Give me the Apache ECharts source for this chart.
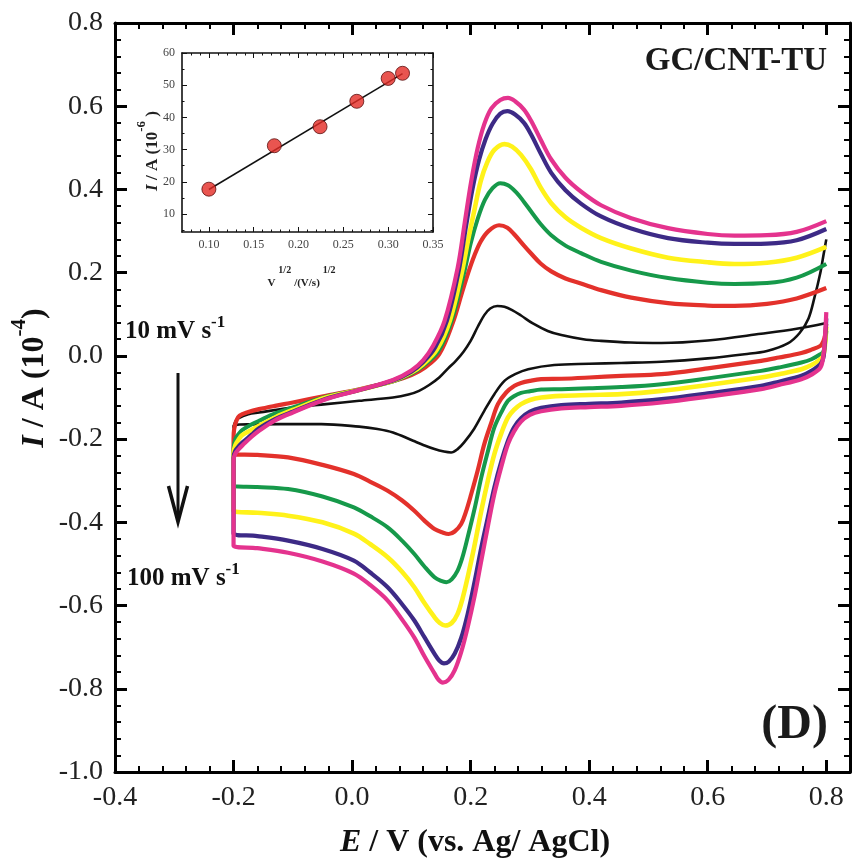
<!DOCTYPE html>
<html><head><meta charset="utf-8">
<script src="https://cdn.jsdelivr.net/npm/echarts@6/dist/echarts.min.js"></script>
<style>html,body{margin:0;padding:0;background:#fff}#c{width:853px;height:862px}</style>
</head><body><div id="c"></div>
<script>
// ---------- Main CV data: [E (V), I (1e-4 A)] ----------
const blackForward = [[-0.2,-0.172],[-0.197,-0.158],[-0.192,-0.15],[-0.175,-0.14],[-0.157,-0.136],[-0.1,-0.124],[-0.044,-0.116],[0.012,-0.108],[0.069,-0.1],[0.095,-0.093],[0.113,-0.084],[0.13,-0.07],[0.147,-0.052],[0.162,-0.03],[0.175,-0.012],[0.188,0.01],[0.2,0.036],[0.212,0.07],[0.223,0.098],[0.233,0.114],[0.245,0.12],[0.257,0.118],[0.27,0.11],[0.285,0.097],[0.305,0.078],[0.33,0.06],[0.353,0.05],[0.39,0.04],[0.42,0.036],[0.47,0.032],[0.522,0.031],[0.6,0.037],[0.69,0.053],[0.75,0.065],[0.8,0.079]];
const blackReverse = [[0.8,0.28],[0.795,0.24],[0.79,0.2],[0.78,0.14],[0.77,0.09],[0.755,0.055],[0.735,0.03],[0.7,0.012],[0.662,0.004],[0.6,-0.006],[0.522,-0.014],[0.454,-0.017],[0.4,-0.019],[0.341,-0.022],[0.297,-0.032],[0.275,-0.044],[0.257,-0.06],[0.24,-0.092],[0.223,-0.132],[0.206,-0.175],[0.189,-0.208],[0.178,-0.224],[0.167,-0.232],[0.155,-0.23],[0.139,-0.224],[0.12,-0.214],[0.103,-0.204],[0.069,-0.184],[0.04,-0.175],[0.012,-0.17],[-0.052,-0.164],[-0.12,-0.164],[-0.19,-0.165],[-0.2,-0.168]];

const redForward = [[-0.2,-0.2],[-0.199,-0.176],[-0.195,-0.155],[-0.19,-0.144],[-0.175,-0.135],[-0.157,-0.128],[-0.13,-0.12],[-0.1,-0.112],[-0.044,-0.096],[0.012,-0.08],[0.069,-0.061],[0.1,-0.046],[0.123,-0.028],[0.147,0.004],[0.17,0.08],[0.185,0.15],[0.196,0.2],[0.206,0.24],[0.217,0.275],[0.23,0.3],[0.248,0.314],[0.262,0.308],[0.275,0.29],[0.29,0.265],[0.302,0.246],[0.318,0.222],[0.336,0.203],[0.36,0.186],[0.386,0.174],[0.42,0.158],[0.471,0.14],[0.533,0.127],[0.6,0.121],[0.645,0.12],[0.7,0.125],[0.75,0.138],[0.8,0.163]];
const redReverse = [[0.8,0.077],[0.798,0.05],[0.795,0.035],[0.79,0.024],[0.775,0.015],[0.758,0.007],[0.72,-0.004],[0.69,-0.012],[0.6,-0.03],[0.522,-0.044],[0.454,-0.048],[0.4,-0.052],[0.353,-0.055],[0.319,-0.056],[0.3,-0.06],[0.285,-0.065],[0.274,-0.072],[0.26,-0.088],[0.246,-0.116],[0.235,-0.16],[0.223,-0.212],[0.212,-0.275],[0.201,-0.332],[0.192,-0.375],[0.184,-0.404],[0.173,-0.422],[0.163,-0.428],[0.152,-0.424],[0.139,-0.416],[0.122,-0.396],[0.105,-0.372],[0.085,-0.348],[0.06,-0.324],[0.03,-0.302],[0.003,-0.284],[-0.05,-0.262],[-0.108,-0.244],[-0.16,-0.238],[-0.2,-0.236]];

const greenForward = [[-0.2,-0.225],[-0.197,-0.2],[-0.19,-0.185],[-0.185,-0.178],[-0.17,-0.165],[-0.157,-0.156],[-0.13,-0.138],[-0.1,-0.124],[-0.044,-0.098],[0.012,-0.081],[0.069,-0.061],[0.1,-0.043],[0.12,-0.024],[0.145,0.01],[0.168,0.085],[0.189,0.2],[0.2,0.27],[0.212,0.33],[0.224,0.375],[0.237,0.403],[0.25,0.415],[0.263,0.41],[0.277,0.393],[0.29,0.37],[0.302,0.347],[0.318,0.317],[0.336,0.29],[0.36,0.265],[0.386,0.247],[0.42,0.226],[0.471,0.205],[0.533,0.187],[0.6,0.176],[0.645,0.173],[0.7,0.175],[0.75,0.188],[0.8,0.221]];
const greenReverse = [[0.8,0.06],[0.798,0.03],[0.795,0.01],[0.79,0.004],[0.775,-0.008],[0.758,-0.016],[0.72,-0.028],[0.69,-0.036],[0.6,-0.054],[0.522,-0.068],[0.454,-0.075],[0.4,-0.078],[0.353,-0.08],[0.319,-0.081],[0.3,-0.085],[0.285,-0.089],[0.273,-0.097],[0.263,-0.108],[0.252,-0.135],[0.24,-0.172],[0.229,-0.23],[0.218,-0.292],[0.207,-0.365],[0.195,-0.436],[0.186,-0.485],[0.178,-0.516],[0.168,-0.537],[0.159,-0.544],[0.149,-0.54],[0.139,-0.532],[0.122,-0.506],[0.105,-0.476],[0.085,-0.445],[0.06,-0.412],[0.03,-0.385],[0.003,-0.364],[-0.05,-0.338],[-0.108,-0.32],[-0.16,-0.315],[-0.2,-0.312]];

const yellowForward = [[-0.2,-0.235],[-0.197,-0.215],[-0.19,-0.198],[-0.185,-0.19],[-0.17,-0.178],[-0.157,-0.168],[-0.13,-0.148],[-0.1,-0.13],[-0.044,-0.1],[0.012,-0.082],[0.069,-0.06],[0.1,-0.04],[0.12,-0.02],[0.143,0.015],[0.165,0.085],[0.185,0.2],[0.196,0.28],[0.207,0.355],[0.217,0.42],[0.228,0.465],[0.24,0.495],[0.257,0.509],[0.27,0.503],[0.285,0.483],[0.302,0.448],[0.318,0.405],[0.336,0.367],[0.36,0.333],[0.386,0.308],[0.42,0.283],[0.471,0.258],[0.533,0.236],[0.6,0.225],[0.645,0.221],[0.7,0.224],[0.75,0.236],[0.8,0.262]];
const yellowReverse = [[0.8,0.07],[0.798,0.03],[0.795,0.0],[0.79,-0.008],[0.775,-0.022],[0.758,-0.032],[0.72,-0.044],[0.69,-0.052],[0.6,-0.07],[0.522,-0.084],[0.454,-0.092],[0.4,-0.094],[0.353,-0.096],[0.319,-0.1],[0.3,-0.106],[0.285,-0.116],[0.273,-0.13],[0.263,-0.148],[0.252,-0.185],[0.24,-0.236],[0.229,-0.3],[0.218,-0.372],[0.207,-0.452],[0.195,-0.532],[0.186,-0.585],[0.178,-0.62],[0.168,-0.642],[0.157,-0.648],[0.148,-0.642],[0.139,-0.628],[0.122,-0.594],[0.105,-0.556],[0.085,-0.52],[0.06,-0.484],[0.03,-0.452],[0.003,-0.427],[-0.05,-0.4],[-0.108,-0.384],[-0.16,-0.377],[-0.2,-0.372]];

const navyForward = [[-0.2,-0.245],[-0.197,-0.228],[-0.19,-0.215],[-0.185,-0.208],[-0.17,-0.19],[-0.157,-0.174],[-0.13,-0.152],[-0.1,-0.134],[-0.044,-0.103],[0.012,-0.082],[0.069,-0.059],[0.1,-0.038],[0.12,-0.015],[0.14,0.02],[0.16,0.085],[0.18,0.205],[0.192,0.31],[0.203,0.4],[0.214,0.47],[0.225,0.52],[0.237,0.558],[0.25,0.582],[0.262,0.588],[0.275,0.58],[0.29,0.56],[0.302,0.532],[0.318,0.487],[0.336,0.44],[0.36,0.398],[0.386,0.366],[0.42,0.335],[0.471,0.306],[0.533,0.283],[0.6,0.272],[0.645,0.269],[0.7,0.27],[0.75,0.278],[0.8,0.305]];
const navyReverse = [[0.8,0.09],[0.798,0.04],[0.795,-0.005],[0.79,-0.02],[0.775,-0.036],[0.758,-0.048],[0.72,-0.062],[0.69,-0.072],[0.6,-0.09],[0.522,-0.104],[0.454,-0.112],[0.4,-0.115],[0.353,-0.118],[0.319,-0.125],[0.3,-0.134],[0.285,-0.15],[0.273,-0.172],[0.263,-0.204],[0.252,-0.252],[0.24,-0.316],[0.229,-0.388],[0.218,-0.46],[0.207,-0.54],[0.195,-0.62],[0.184,-0.678],[0.173,-0.716],[0.163,-0.735],[0.155,-0.739],[0.147,-0.732],[0.139,-0.716],[0.122,-0.676],[0.105,-0.636],[0.085,-0.598],[0.06,-0.556],[0.03,-0.52],[0.003,-0.492],[-0.05,-0.464],[-0.108,-0.444],[-0.16,-0.433],[-0.2,-0.427]];

const pinkForward = [[-0.2,-0.25],[-0.197,-0.235],[-0.19,-0.222],[-0.185,-0.215],[-0.17,-0.195],[-0.157,-0.18],[-0.13,-0.155],[-0.1,-0.136],[-0.044,-0.104],[0.012,-0.082],[0.069,-0.058],[0.1,-0.035],[0.12,-0.01],[0.137,0.025],[0.156,0.084],[0.178,0.211],[0.19,0.32],[0.201,0.42],[0.212,0.5],[0.223,0.557],[0.235,0.595],[0.25,0.615],[0.263,0.62],[0.275,0.612],[0.29,0.592],[0.302,0.565],[0.318,0.52],[0.336,0.472],[0.36,0.428],[0.386,0.395],[0.42,0.362],[0.471,0.331],[0.533,0.307],[0.6,0.293],[0.645,0.289],[0.7,0.29],[0.75,0.298],[0.8,0.324]];
const pinkReverse = [[0.8,0.105],[0.798,0.05],[0.795,0.0],[0.79,-0.028],[0.775,-0.045],[0.758,-0.056],[0.72,-0.07],[0.69,-0.08],[0.6,-0.098],[0.522,-0.112],[0.454,-0.12],[0.4,-0.123],[0.353,-0.126],[0.319,-0.133],[0.3,-0.142],[0.285,-0.158],[0.273,-0.182],[0.263,-0.212],[0.252,-0.265],[0.24,-0.332],[0.229,-0.41],[0.218,-0.492],[0.207,-0.575],[0.195,-0.652],[0.184,-0.712],[0.173,-0.756],[0.163,-0.778],[0.153,-0.785],[0.145,-0.777],[0.139,-0.763],[0.122,-0.722],[0.105,-0.677],[0.085,-0.635],[0.06,-0.588],[0.03,-0.55],[0.003,-0.523],[-0.05,-0.494],[-0.108,-0.473],[-0.16,-0.462],[-0.2,-0.456]];

// ---------- Inset data ----------
const insetSqrtV = [0.100, 0.173, 0.224, 0.265, 0.300, 0.316];
const insetPeakI = [17.7, 31.2, 37.1, 45.0, 52.1, 53.7];
const fitX = [0.100, 0.316];
const fitY = [17.6, 53.6];
const insetXTicks = [0.10, 0.15, 0.20, 0.25, 0.30, 0.35];
const insetXMinor = [0.08,0.09,0.11,0.12,0.13,0.14,0.16,0.17,0.18,0.19,0.21,0.22,0.23,0.24,0.26,0.27,0.28,0.29,0.31,0.32,0.33,0.34];
const insetYTicks = [10, 20, 30, 40, 50, 60];
const insetYMinor = [5, 15, 25, 35, 45, 55];

const FONT = '"Liberation Serif","Times New Roman",serif';

const curves = [
  {name:'10 mV/s', color:'#111111', width:2.6, fwd:blackForward, rev:blackReverse},
  {name:'30 mV/s', color:'#e3312b', width:4.2, fwd:redForward, rev:redReverse},
  {name:'50 mV/s', color:'#16994a', width:4.0, fwd:greenForward, rev:greenReverse},
  {name:'70 mV/s', color:'#fff21a', width:4.6, fwd:yellowForward, rev:yellowReverse},
  {name:'90 mV/s', color:'#3d2a86', width:4.2, fwd:navyForward, rev:navyReverse},
  {name:'100 mV/s', color:'#e4338e', width:4.2, fwd:pinkForward, rev:pinkReverse}
];

function isMult(v, step){ const r = v/step; return Math.abs(r - Math.round(r)) < 1e-6; }

function mainAxis(position, showLabel, extra){
  return Object.assign({
    type:'value', gridIndex:0, position:position,
    axisLine:{show:true, onZero:false, lineStyle:{color:'#000', width:3}},
    axisTick:{show:true, inside:true, length:12, lineStyle:{color:'#000', width:3}},
    minorTick:{show:true, splitNumber:5, length:6, lineStyle:{color:'#000', width:2}},
    splitLine:{show:false},
    axisLabel:{show:showLabel, fontSize:28, fontFamily:FONT, color:'#222', margin:12,
      formatter: v => isMult(v,0.2) ? (Math.abs(v)<1e-9 ? '0.0' : v.toFixed(1)) : ''}
  }, extra);
}

function insetAxis(position, ticks, isMinor, extra){
  return Object.assign({
    type:'value', gridIndex:1, position:position,
    axisLine:{show:!isMinor, onZero:false, lineStyle:{color:'#111', width:1.6}},
    axisTick:{show:true, inside:true, length:isMinor?2.5:5, customValues:ticks, lineStyle:{color:'#111', width:1}},
    splitLine:{show:false},
    axisLabel:{show:false}
  }, extra);
}

const xAxes = [
  mainAxis('bottom', true, {min:-0.4, max:0.84, interval:0.2}),
  mainAxis('top', false, {min:-0.4, max:0.84, interval:0.2}),
  insetAxis('bottom', insetXTicks, false, {min:0.07, max:0.35,
    axisLabel:{show:true, customValues:insetXTicks, fontSize:12, fontFamily:FONT, color:'#444', margin:7, formatter:v=>v.toFixed(2)}}),
  insetAxis('top', insetXTicks, false, {min:0.07, max:0.35}),
  insetAxis('bottom', insetXMinor, true, {min:0.07, max:0.35}),
  insetAxis('top', insetXMinor, true, {min:0.07, max:0.35})
];
const yAxes = [
  mainAxis('left', true, {min:-1.0, max:0.8, interval:0.2}),
  mainAxis('right', false, {min:-1.0, max:0.8, interval:0.2}),
  insetAxis('left', insetYTicks, false, {min:4.4, max:60,
    axisLabel:{show:true, customValues:insetYTicks, fontSize:12, fontFamily:FONT, color:'#444', margin:7}}),
  insetAxis('right', insetYTicks, false, {min:4.4, max:60}),
  insetAxis('left', insetYMinor, true, {min:4.4, max:60}),
  insetAxis('right', insetYMinor, true, {min:4.4, max:60})
];

const series = curves.map((c, i) => ({
  type:'line', name:c.name, xAxisIndex:0, yAxisIndex:0,
  data: c.rev.concat(c.fwd), showSymbol:false, smooth:0.35, silent:true,
  lineStyle:{color:c.color, width:c.width, join:'round'}, z:2+i
}));
series.push({
  type:'line', xAxisIndex:2, yAxisIndex:2, data: fitX.map((x,i)=>[x, fitY[i]]),
  showSymbol:false, silent:true, lineStyle:{color:'#111', width:1.5}, z:10
});
series.push({
  type:'scatter', xAxisIndex:2, yAxisIndex:2, data: insetSqrtV.map((x,i)=>[x, insetPeakI[i]]),
  symbol:'circle', symbolSize:14, silent:true,
  itemStyle:{color:'#e42a24', borderColor:'#5a1010', borderWidth:1}, z:11
});

const chart = echarts.init(document.getElementById('c'), null, {renderer:'canvas'});
chart.setOption({
  animation:false,
  backgroundColor:'#fff',
  grid:[
    {left:115, top:23, width:735, height:749, show:false},
    {left:182, top:53, width:251, height:179, show:true, backgroundColor:'#fff', borderWidth:0}
  ],
  xAxis:xAxes, yAxis:yAxes, series:series,
  graphic:[
    {type:'text', x:475, y:843, style:{
      text:'{i|E}{b| / V (vs. Ag/ AgCl)}', align:'center', verticalAlign:'middle',
      rich:{i:{fontSize:32, fontStyle:'italic', fontWeight:'bold', fontFamily:FONT, fill:'#111'},
            b:{fontSize:32, fontWeight:'bold', fontFamily:FONT, fill:'#111'}}}},
    {type:'text', x:30, y:378, rotation:Math.PI/2, style:{
      text:'{i|I}{b| / A (10}{s|-4}{b|)}', align:'center', verticalAlign:'middle',
      rich:{i:{fontSize:32, fontStyle:'italic', fontWeight:'bold', fontFamily:FONT, fill:'#111', lineHeight:42, verticalAlign:'bottom'},
            b:{fontSize:32, fontWeight:'bold', fontFamily:FONT, fill:'#111', lineHeight:42, verticalAlign:'bottom'},
            s:{fontSize:21, fontWeight:'bold', fontFamily:FONT, fill:'#111', lineHeight:21, verticalAlign:'top'}}}},
    {type:'text', x:827, y:61, style:{text:'GC/CNT-TU', align:'right', verticalAlign:'middle',
      font:'bold 33px ' + FONT, fill:'#1a1a1a'}},
    {type:'text', x:828, y:726, style:{text:'(D)', align:'right', verticalAlign:'middle',
      font:'bold 48px ' + FONT, fill:'#1a1a1a'}},
    {type:'text', x:125, y:329, style:{
      text:'{a|10 mV s}{s|-1}', align:'left', verticalAlign:'middle',
      rich:{a:{fontSize:25, fontWeight:'bold', fontFamily:FONT, fill:'#111', lineHeight:30, verticalAlign:'bottom'},
            s:{fontSize:17, fontWeight:'bold', fontFamily:FONT, fill:'#111', lineHeight:17, verticalAlign:'top'}}}},
    {type:'text', x:127, y:576, style:{
      text:'{a|100 mV s}{s|-1}', align:'left', verticalAlign:'middle',
      rich:{a:{fontSize:25, fontWeight:'bold', fontFamily:FONT, fill:'#111', lineHeight:30, verticalAlign:'bottom'},
            s:{fontSize:17, fontWeight:'bold', fontFamily:FONT, fill:'#111', lineHeight:17, verticalAlign:'top'}}}},
    {type:'line', shape:{x1:178, y1:373, x2:178, y2:518}, style:{stroke:'#111', lineWidth:3}},
    {type:'polyline', shape:{points:[[168.5,486],[178,522],[187.5,486]]}, style:{stroke:'#111', lineWidth:3.5, fill:null}},
    {type:'text', x:148, y:151, rotation:Math.PI/2, z:100, style:{
      text:'{i|I}{b| / A (10}{s|-6}{b| )}', align:'center', verticalAlign:'middle',
      rich:{i:{fontSize:17, fontStyle:'italic', fontWeight:'bold', fontFamily:FONT, fill:'#222', lineHeight:26, verticalAlign:'bottom'},
            b:{fontSize:17, fontWeight:'bold', fontFamily:FONT, fill:'#222', lineHeight:26, verticalAlign:'bottom'},
            s:{fontSize:13, fontWeight:'bold', fontFamily:FONT, fill:'#222', lineHeight:13, verticalAlign:'top'}}}},
    {type:'text', x:303, y:277, z:100, style:{
      text:'{b|V}{s|1/2}{b|/(V/s)}{s|1/2}', align:'center', verticalAlign:'middle',
      rich:{b:{fontSize:11, fontWeight:'bold', fontFamily:FONT, fill:'#222', lineHeight:24, verticalAlign:'bottom'},
            s:{fontSize:10, fontWeight:'bold', fontFamily:FONT, fill:'#222', lineHeight:10, verticalAlign:'top', padding:[0,3,0,3]}}}}
  ]
});
</script>
</body></html>
